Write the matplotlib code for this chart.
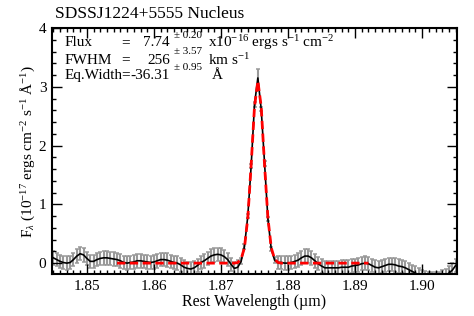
import numpy as np
import matplotlib
matplotlib.use("Agg")
import matplotlib.pyplot as plt
from matplotlib.ticker import MultipleLocator

# spectrum sampled every 0.0005 um starting at 1.8450 um
lam_start = 1.8450
lam_step = 0.0005
flux = [
    0.09, 0.06, 0.03, 0.01, 0.00, 0.01, 0.06, 0.12, 0.16, 0.14,
    0.08, 0.03, 0.03, 0.06, 0.08, 0.09, 0.09, 0.08, 0.07, 0.06,
    0.04, 0.01, 0.00, 0.01, 0.02, 0.04, 0.04, 0.03, 0.02, 0.01,
    0.02, 0.04, 0.06, 0.06, 0.05, 0.03, 0.01, 0.00, -0.03, -0.07,
    -0.09, -0.10, -0.08, -0.04, 0.01, 0.04, 0.08, 0.12, 0.14, 0.15,
    0.14, 0.11, 0.06, -0.02, -0.09, -0.07, 0.03, 0.28, 0.80, 1.65,
    2.70, 3.15, 2.62, 1.70, 0.75, 0.24, 0.05, 0.01, 0.01, 0.00,
    0.00, 0.01, 0.03, 0.05, 0.09, 0.12, 0.12, 0.09, 0.04, -0.01,
    -0.05, -0.08, -0.08, -0.08, -0.08, -0.08, -0.07, -0.07, -0.07, -0.05,
    -0.04, -0.03, -0.01, 0.00, -0.01, -0.04, -0.07, -0.08, -0.06, -0.04,
    -0.02, -0.02, -0.03, -0.05, -0.06, -0.08, -0.11, -0.14, -0.17, -0.20,
    -0.23, -0.25, -0.26, -0.27, -0.27, -0.26, -0.24, -0.21, -0.17, -0.12,
    -0.04,
]
flux_err = [0.115] * 56 + [0.05, 0.04, 0.04, 0.04, 0.04, 0.15, 0.04, 0.04,
                           0.04, 0.04, 0.05] + [0.115] * 54

# gaussian fit, same sampling, starting at 1.8545 um
fit_start = 1.8545
fit_flux = [
    0.0, 0.0, 0.0, 0.0, 0.0, 0.0, 0.0, 0.0, 0.0, 0.0,
    0.0, 0.0, 0.0, 0.0, 0.0, 0.0, 0.0, 0.0, 0.0, 0.0,
    0.0, 0.0, 0.0, 0.0, 0.0, 0.0, 0.0, 0.0, 0.0, 0.0,
    0.0, 0.0, 0.0, 0.0, 0.0, 0.0, 0.01, 0.07, 0.26, 0.77,
    1.67, 2.66, 3.10, 2.66, 1.67, 0.77, 0.26, 0.07, 0.01, 0.0,
    0.0, 0.0, 0.0, 0.0, 0.0, 0.0, 0.0, 0.0, 0.0, 0.0,
    0.0, 0.0, 0.0, 0.0, 0.0, 0.0, 0.0, 0.0, 0.0, 0.0,
    0.0, 0.0, 0.0, 0.0, 0.0, 0.0,
]

lam = lam_start + lam_step * np.arange(len(flux))
fit_lam = fit_start + lam_step * np.arange(len(fit_flux))

plt.rcParams["font.family"] = ["Liberation Serif", "DejaVu Serif"]
plt.rcParams["mathtext.fontset"] = "custom"
plt.rcParams["mathtext.rm"] = "Liberation Serif"
plt.rcParams["mathtext.it"] = "Liberation Serif:italic"

W, H = 474, 316
fig = plt.figure(figsize=(W / 100, H / 100), dpi=100)
ax = fig.add_axes([52 / W, 1 - 274 / H, (457 - 52) / W, (274 - 28) / H])

ax.errorbar(lam, flux, yerr=flux_err, fmt="none", ecolor="#999999",
            elinewidth=1.5, capsize=1.7, capthick=1.1, zorder=1)
ax.plot(lam, flux, color="black", lw=1.2, zorder=2)
ax.plot(fit_lam, fit_flux, color="red", lw=2.0, ls=(0, (3, 1.6)), zorder=3)

ax.set_xlim(1.8448, 1.9052)
ax.set_ylim(-0.185, 4.0)
ax.xaxis.set_major_locator(MultipleLocator(0.01))
ax.xaxis.set_minor_locator(MultipleLocator(0.001))
ax.yaxis.set_major_locator(MultipleLocator(1))
ax.yaxis.set_minor_locator(MultipleLocator(0.2))
ax.set_xticks([1.85, 1.86, 1.87, 1.88, 1.89, 1.90])
ax.set_xticklabels(["1.85", "1.86", "1.87", "1.88", "1.89", "1.90"])
ax.tick_params(which="both", direction="in", top=True, right=True,
               labelsize=11, width=1.0, pad=4)
ax.tick_params(which="major", length=7)
ax.tick_params(which="minor", length=3)
for s in ax.spines.values():
    s.set_linewidth(1.5)

ax.set_xlabel("Rest Wavelength (\u00b5m)", fontsize=11.5, labelpad=1)
ax.set_ylabel(r"F$_\lambda$ (10$^{-17}$ ergs cm$^{-2}$ s$^{-1}$ $\rm\AA^{-1}$)",
              fontsize=11, labelpad=1)

fig.text(55 / W, 1 - 14 / H, "SDSSJ1224+5555 Nucleus", fontsize=12.5,
         ha="left", va="center")


def px(x, y, s, **kw):
    fig.text(x / W, 1 - y / H, s, va="center", **kw)


rows_y = [43, 60, 76]
sup_y = [35, 52, 68]
fs = 11
px(65, rows_y[0], "Flux", fontsize=fs)
px(65, rows_y[1], "FWHM", fontsize=fs)
px(65, rows_y[2], "Eq.Width=", fontsize=fs)
px(121, rows_y[0], "=", fontsize=fs)
px(121, rows_y[1], "=", fontsize=fs)
px(170, rows_y[0], "7.74", fontsize=fs, ha="right")
px(170, rows_y[1], "256", fontsize=fs, ha="right")
px(170, rows_y[2], "-36.31", fontsize=fs, ha="right")
px(174, sup_y[0], "\u00b1 0.20", fontsize=8)
px(174, sup_y[1], "\u00b1 3.57", fontsize=8)
px(174, sup_y[2], "\u00b1 0.95", fontsize=8)
px(208, rows_y[0], r"x10$^{-16}$ ergs s$^{-1}$ cm$^{-2}$", fontsize=fs)
px(208, rows_y[1], r"km s$^{-1}$", fontsize=fs)
px(212, rows_y[2], "\u00c5", fontsize=fs)

fig.savefig("out.png", dpi=100)
